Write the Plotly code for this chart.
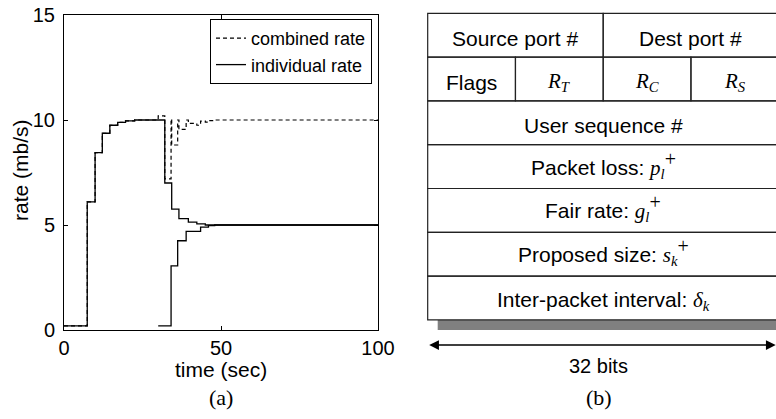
import plotly.graph_objects as go

W, H = 776, 419

# ---------------- data: panel (a) ----------------
t_flow1 = [0, 7.4, 9.9, 12.2, 14.6, 17.1, 19.6, 22.5, 32.1, 34.3, 36.6, 39.6, 42.3, 45, 100]
r_flow1 = [0.2, 6.1, 8.45, 9.37, 9.75, 9.89, 9.96, 10.0, 7.0, 5.76, 5.3, 5.14, 5.05, 5.0, 5.0]

t_flow2 = [30, 34.1, 36.2, 38.9, 43.5, 46, 48, 100]
r_flow2 = [0.2, 3.05, 4.25, 4.7, 4.9, 4.97, 5.0, 5.0]

t_comb = [0, 7.4, 9.9, 12.2, 14.6, 17.1, 19.6, 22.5, 30, 32.1, 34.1, 34.3, 36.2, 36.6,
          38.9, 39.6, 42.3, 43.5, 45, 46, 48, 100]
r_comb = [0.2, 6.1, 8.45, 9.37, 9.75, 9.89, 9.96, 10.0, 10.2, 7.2, 10.05, 8.81, 10.0, 9.55,
          10.0, 9.84, 9.75, 9.95, 9.9, 9.97, 10.0, 10.0]

x_ticks = [0, 50, 100]
y_ticks = [0, 5, 10, 15]

# ---------------- data: panel (b) ----------------
SERIF = "Liberation Serif"
def m(s):
    return "<span style='font-family:%s'>%s</span>" % (SERIF, s)

PLUS = "<sup><span style='font-size:20px'>+</span></sup>"

field_labels = [
    "Source port #", "Dest port #",
    "Flags", m("<i>R</i><sub><i>T</i></sub>"), m("<i>R</i><sub><i>C</i></sub>"), m("<i>R</i><sub><i>S</i></sub>"),
    "User sequence #",
    "Packet loss: " + m("<i>p</i><sub><i>l</i></sub>" + PLUS),
    "Fair rate: " + m("<i>g</i><sub><i>l</i></sub>" + PLUS),
    "Proposed size: " + m("<i>s</i><sub><i>k</i></sub>" + PLUS),
    "Inter-packet interval: " + m("<i>δ</i><sub><i>k</i></sub>"),
]
field_bit_start = [0, 16, 0, 8, 16, 24, 0, 0, 0, 0, 0]
field_bit_width = [16, 16, 8, 8, 8, 8, 32, 32, 32, 32, 32]
field_row = [0, 0, 1, 1, 1, 1, 2, 3, 4, 5, 6]
word_bits = 32
word_label = "32 bits"

# ---------------- styles / layout constants ----------------
SANS = "Liberation Sans"
px_per_bit = 87.75 / 8
tbl_left_px = 427.7
row_px = 43.8
tbl_top_px = 13.3
pad_bits = 0.5

fig = go.Figure()

fig.add_trace(go.Scatter(x=t_comb, y=r_comb, mode="lines", line_shape="hv",
                         line=dict(color="black", width=1.2, dash="4px,3px"),
                         name="combined rate", xaxis="x", yaxis="y"))
fig.add_trace(go.Scatter(x=t_flow1, y=r_flow1, mode="lines", line_shape="hv",
                         line=dict(color="black", width=1.3),
                         name="individual rate", legendgroup="ind", xaxis="x", yaxis="y"))
fig.add_trace(go.Scatter(x=t_flow2, y=r_flow2, mode="lines", line_shape="hv",
                         line=dict(color="black", width=1.3),
                         name="individual rate", legendgroup="ind", showlegend=False,
                         xaxis="x", yaxis="y"))

n_rows = max(field_row) + 1
shapes = []
annotations = []
for lab, b0, bw, r in zip(field_labels, field_bit_start, field_bit_width, field_row):
    shapes.append(dict(type="rect", xref="x2", yref="y2", x0=b0, x1=b0 + bw, y0=r, y1=r + 1,
                       line=dict(color="#222", width=1.2), fillcolor="rgba(0,0,0,0)"))
    annotations.append(dict(xref="x2", yref="y2", x=b0 + bw / 2, y=r + 0.5, text=lab,
                            showarrow=False, yshift=(2 if PLUS in lab else -3),
                            font=dict(family=SANS, size=21, color="black")))

# shadow under the table
shadow_dx = 10 / px_per_bit
shadow_dy = 10 / row_px
shapes.append(dict(type="rect", xref="x2", yref="y2", x0=shadow_dx, x1=word_bits + 2,
                   y0=n_rows, y1=n_rows + shadow_dy, line=dict(width=0), fillcolor="#808080",
                   layer="below"))

# 32-bit arrow
arrow_row = n_rows + (345 - (tbl_top_px + n_rows * row_px)) / row_px
annotations.append(dict(xref="x2", yref="y2", axref="x2", ayref="y2",
                        x=word_bits, y=arrow_row, ax=0, ay=arrow_row, text="",
                        showarrow=True, arrowside="end+start", arrowhead=2, startarrowhead=2,
                        arrowsize=1.3, startarrowsize=1.3, arrowwidth=1.5, arrowcolor="black",
                        standoff=3, startstandoff=0))
annotations.append(dict(xref="x2", yref="paper", x=word_bits / 2 - 0.4, y=1 - 366 / H, text=word_label,
                        showarrow=False, font=dict(family=SANS, size=20, color="black"),
                        xanchor="center", yanchor="middle"))

# axis titles and panel labels
annotations.append(dict(xref="paper", yref="paper", x=(64 + 378) / 2 / W, y=1 - 369 / H,
                        text="time (sec)", showarrow=False, xanchor="center", yanchor="middle",
                        font=dict(family=SANS, size=21, color="black")))
annotations.append(dict(xref="paper", yref="paper", x=20 / W, y=1 - 170 / H,
                        text="rate (mb/s)", showarrow=False, textangle=-90,
                        xanchor="center", yanchor="middle",
                        font=dict(family=SANS, size=21, color="black")))
annotations.append(dict(xref="paper", yref="paper", x=221 / W, y=1 - 397 / H, text="(a)",
                        showarrow=False, xanchor="center", yanchor="middle",
                        font=dict(family=SERIF, size=22, color="black")))
annotations.append(dict(xref="x2", yref="paper", x=word_bits / 2 - 0.4, y=1 - 397 / H, text="(b)",
                        showarrow=False, xanchor="center", yanchor="middle",
                        font=dict(family=SERIF, size=22, color="black")))

x2_left_px = tbl_left_px - pad_bits * px_per_bit
x2_range = [-pad_bits, (W - tbl_left_px) / px_per_bit]
y2_range = [(H - tbl_top_px) / row_px, -tbl_top_px / row_px]

axis_common = dict(showgrid=False, zeroline=False, showline=True, linecolor="black", linewidth=1,
                   mirror="ticks", ticks="inside", ticklen=4, tickcolor="black", automargin=False,
                   tickfont=dict(family=SANS, size=20, color="black"))

fig.update_layout(
    template="none",
    width=W, height=H, margin=dict(l=0, r=0, t=0, b=0, pad=0, autoexpand=False),
    paper_bgcolor="white", plot_bgcolor="white",
    showlegend=True,
    legend=dict(x=372 / W, xanchor="right", y=1 - 19 / H, yanchor="top",
                bordercolor="black", borderwidth=1, bgcolor="white",
                font=dict(family=SANS, size=18, color="black"),
                tracegroupgap=0, itemwidth=30),
    xaxis=dict(domain=[64 / W, 378 / W], range=[0, 100], tickvals=x_ticks, anchor="y",
               ticklabelstandoff=0, **axis_common),
    yaxis=dict(domain=[1 - 330 / H, 1 - 15 / H], range=[0, 15], tickvals=y_ticks, anchor="x",
               ticklabelstandoff=4, **axis_common),
    xaxis2=dict(domain=[x2_left_px / W, 1], range=x2_range, anchor="y2", visible=False,
                automargin=False),
    yaxis2=dict(domain=[0, 1], range=y2_range, anchor="x2", visible=False, automargin=False),
    shapes=shapes,
    annotations=annotations,
)

fig.write_html("out.html")
